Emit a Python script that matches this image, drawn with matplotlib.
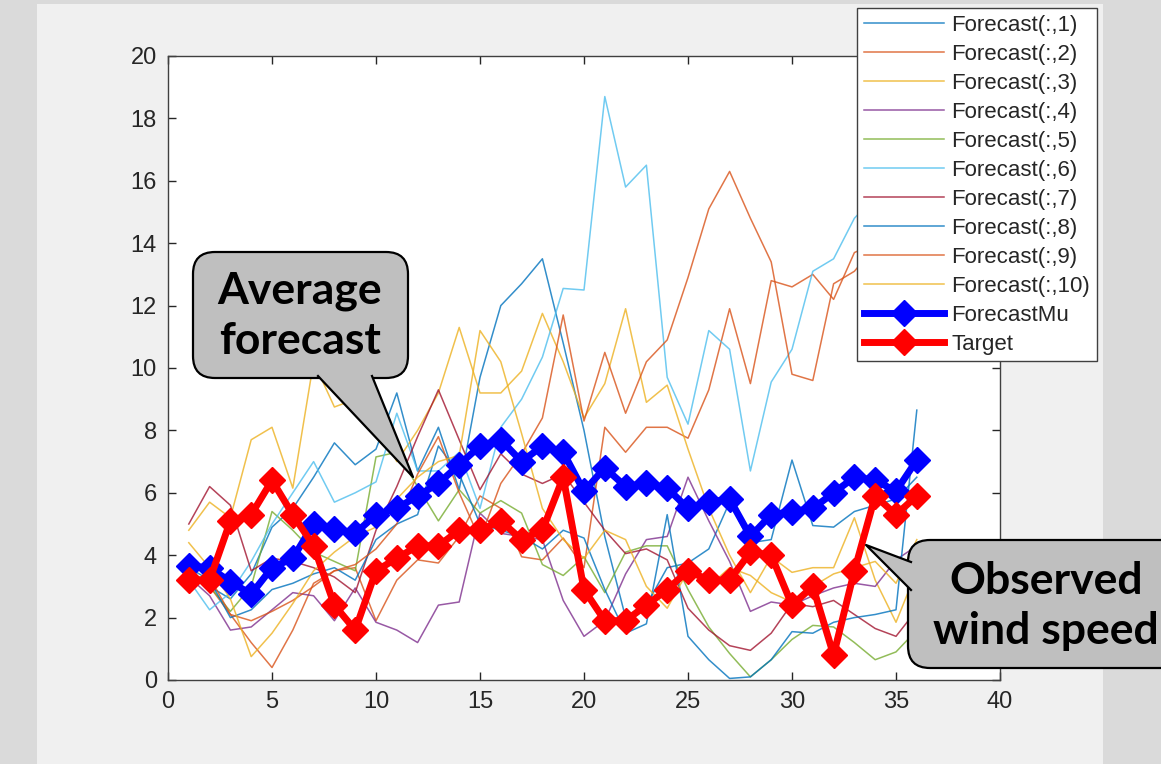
import matplotlib.pyplot as plt
from matplotlib.patches import FancyBboxPatch, Polygon, Rectangle
from matplotlib.lines import Line2D
from matplotlib.transforms import IdentityTransform

# data
steps = list(range(1, 37))

forecast_1 = [3.5, 3.0, 2.6, 3.4, 4.9, 5.5, 6.5, 7.6, 6.9, 7.4, 9.2, 6.7, 8.1, 6.1, 9.7, 12.0, 12.7, 13.5,
              10.8, 8.0, 4.6, 2.0, 2.4, 3.6, 3.75, 4.2, 5.7, 4.4, 4.5, 7.05, 4.95, 4.9, 5.4, 5.6, 5.8, 6.5]
forecast_2 = [3.5, 3.0, 2.1, 1.2, 0.4, 1.6, 3.1, 3.5, 3.6, 1.9, 3.2, 3.85, 3.75, 4.6, 5.9, 5.5, 3.95, 3.85,
              4.55, 3.6, 8.1, 7.3, 8.1, 8.1, 7.75, 9.3, 11.9, 9.5, 12.8, 12.6, 13.0, 12.2, 13.7, 14.0, 14.5, 13.8]
forecast_3 = [4.8, 5.7, 5.2, 7.7, 8.1, 6.15, 10.2, 8.75, 9.0, 8.3, 7.0, 8.0, 9.2, 11.3, 9.2, 9.2, 9.9, 11.75,
              10.2, 8.4, 9.5, 11.9, 8.9, 9.45, 7.4, 5.5, 4.0, 2.8, 3.95, 3.45, 3.6, 3.6, 5.2, 3.2, 1.85, 3.5]
forecast_4 = [3.3, 2.7, 1.6, 1.7, 2.25, 2.8, 2.7, 1.9, 2.95, 1.85, 1.6, 1.2, 2.4, 2.5, 5.35, 4.7, 4.6, 4.5,
              2.55, 1.4, 1.9, 3.4, 4.5, 4.6, 6.5, 5.1, 3.8, 2.2, 2.5, 2.4, 2.7, 2.95, 3.1, 3.0, 3.85, 4.3]
forecast_5 = [3.3, 3.0, 2.2, 3.0, 5.4, 4.8, 4.1, 3.8, 3.5, 7.15, 7.3, 6.2, 5.1, 6.1, 5.35, 5.75, 5.35, 3.7,
              3.35, 3.95, 2.8, 4.1, 4.3, 4.3, 2.9, 1.7, 0.85, 0.1, 0.65, 1.3, 1.75, 1.7, 1.2, 0.65, 0.9, 1.6]
forecast_6 = [3.2, 2.25, 2.8, 3.8, 5.0, 6.0, 7.0, 5.7, 6.0, 6.35, 8.55, 6.7, 6.7, 7.3, 5.5, 8.1, 9.0, 10.35,
              12.55, 12.5, 18.7, 15.8, 16.5, 9.7, 8.2, 11.2, 10.6, 6.7, 9.55, 10.6, 13.1, 13.5, 14.8, 15.5, 14.6, 15.2]
forecast_7 = [5.0, 6.2, 5.6, 3.5, 3.9, 3.8, 3.6, 3.3, 2.8, 4.8, 6.2, 7.8, 9.3, 7.7, 6.1, 7.25, 6.6, 6.3,
              6.6, 5.7, 4.8, 4.05, 4.2, 3.85, 2.3, 1.6, 1.1, 0.95, 1.5, 2.45, 2.35, 2.55, 2.1, 1.65, 1.4, 2.25]
forecast_8 = [3.6, 3.2, 2.0, 2.25, 2.9, 3.1, 3.4, 3.6, 3.2, 4.5, 5.0, 5.3, 7.5, 6.6, 5.0, 4.8, 4.6, 4.2,
              4.8, 4.55, 2.9, 1.5, 1.8, 5.3, 1.4, 0.65, 0.05, 0.1, 0.65, 1.55, 1.5, 1.85, 2.0, 2.1, 2.25, 8.65]
forecast_9 = [3.3, 3.3, 2.1, 1.9, 2.2, 2.55, 3.0, 3.5, 3.7, 4.2, 5.0, 6.6, 7.8, 6.0, 4.5, 6.3, 7.25, 8.4,
              11.7, 8.3, 10.5, 8.55, 10.2, 10.9, 12.9, 15.1, 16.3, 14.8, 13.4, 9.8, 9.6, 12.7, 13.1, 13.9, 14.2, 14.6]
forecast_10 = [4.4, 3.6, 2.6, 0.75, 1.5, 2.45, 3.5, 4.1, 4.6, 4.9, 5.8, 6.5, 7.0, 7.2, 11.2, 10.2, 7.9, 5.5,
               4.5, 3.9, 4.8, 4.5, 3.0, 2.3, 3.5, 3.0, 3.6, 3.35, 2.8, 2.5, 3.0, 3.4, 3.6, 3.8, 3.1, 4.5]

forecast_mu = [3.65, 3.6, 3.15, 2.75, 3.6, 3.9, 5.0, 4.85, 4.7, 5.3, 5.5, 5.9, 6.3, 6.9, 7.5, 7.7, 7.0, 7.5,
               7.3, 6.05, 6.8, 6.2, 6.3, 6.15, 5.5, 5.7, 5.8, 4.6, 5.3, 5.4, 5.5, 6.0, 6.5, 6.4, 6.05, 7.05]
target = [3.2, 3.2, 5.1, 5.3, 6.4, 5.3, 4.3, 2.4, 1.6, 3.5, 3.9, 4.3, 4.3, 4.8, 4.8, 5.1, 4.5, 4.8,
          6.5, 2.9, 1.9, 1.9, 2.4, 2.9, 3.5, 3.2, 3.2, 4.1, 4.0, 2.4, 3.0, 0.8, 3.5, 5.9, 5.3, 5.9]

forecasts = [forecast_1, forecast_2, forecast_3, forecast_4, forecast_5,
             forecast_6, forecast_7, forecast_8, forecast_9, forecast_10]
labels = ['Forecast(:,%d)' % (i + 1) for i in range(10)]

# matlab default color order
colors = ['#0072BD', '#D95319', '#EDB120', '#7E2F8E', '#77AC30', '#4DBEEE', '#A2142F']

W, H = 1161, 764
plt.rcParams['font.family'] = ['Liberation Sans', 'DejaVu Sans']

fig = plt.figure(figsize=(W / 100, H / 100), dpi=100, facecolor='#dadada')
fig.patches.append(Rectangle((37 / W, 0), (1103 - 37) / W, (H - 4) / H, transform=fig.transFigure,
                             facecolor='#f0f0f0', edgecolor='none', zorder=-10))

ax = fig.add_axes([168 / W, 84 / H, 832 / W, 624 / H])

for i, series in enumerate(forecasts):
    ax.plot(steps, series, color=colors[i % 7], lw=1.1, alpha=0.8, label=labels[i])

ax.plot(steps, forecast_mu, color='#0000ff', lw=5, marker='D', ms=13, label='ForecastMu')
ax.plot(steps, target, color='#ff0000', lw=5, marker='D', ms=13, label='Target')

ax.set_xlim(0, 40)
ax.set_ylim(0, 20)
ax.set_xticks(range(0, 41, 5))
ax.set_yticks(range(0, 21, 2))
ax.tick_params(direction='in', top=True, right=True, length=6, width=1,
               labelsize=17, colors='#262626', pad=8)
for sp in ax.spines.values():
    sp.set_color('#404040')
    sp.set_linewidth(1)

leg = ax.legend(loc='upper right', bbox_to_anchor=(1097 / W, (H - 8) / H), bbox_transform=fig.transFigure,
                fontsize=16, fancybox=False, framealpha=1, edgecolor='#404040', borderpad=0.3,
                labelspacing=0.36, handlelength=3.6, handletextpad=0.36, numpoints=1, borderaxespad=0)
leg.get_frame().set_linewidth(1)
leg.set_zorder(20)
for t in leg.get_texts():
    t.set_color('#262626')


def callout(box, base, tip, text, text_xy):
    # box and points are in image pixels (y measured from the top)
    x0, y0, x1, y1 = box
    ident = IdentityTransform()
    patch = FancyBboxPatch((x0, H - y1), x1 - x0, y1 - y0, boxstyle='round,pad=0,rounding_size=22',
                           transform=ident, facecolor='#bfbfbf', edgecolor='black', lw=1.6, zorder=30)
    fig.add_artist(patch)
    (bx0, by0), (bx1, by1) = base
    tx, ty = tip
    wedge = Polygon([(bx0, H - by0), (tx, H - ty), (bx1, H - by1)], closed=True, transform=ident,
                    facecolor='#bfbfbf', edgecolor='none', zorder=31)
    fig.add_artist(wedge)
    fig.add_artist(Line2D([bx0, tx, bx1], [H - by0, H - ty, H - by1], transform=ident,
                          color='black', lw=1.6, zorder=32))
    fig.text(text_xy[0] / W, 1 - text_xy[1] / H, text, ha='center', va='center', fontsize=32,
             fontweight='bold', family=['Lato', 'DejaVu Sans'], linespacing=1.32, zorder=33)


callout((193, 252, 408, 378), [(318, 376), (372, 376)], (413, 477), 'Average\nforecast', (300, 316))
callout((908, 540, 1210, 668), [(911, 562), (911, 590)], (866, 545), 'Observed\nwind speed', (1046, 606))

plt.savefig('out.png', dpi=100, facecolor=fig.get_facecolor())
